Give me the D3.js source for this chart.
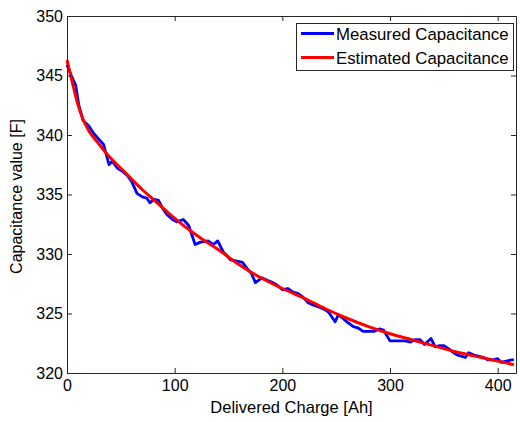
<!DOCTYPE html>
<html>
<head>
<meta charset="utf-8">
<script src="https://cdn.jsdelivr.net/npm/d3@7"></script>
<style>
  html, body { margin: 0; padding: 0; background: #fff; }
  svg { display: block; font-family: "Liberation Sans", Arial, Helvetica, sans-serif; }
</style>
</head>
<body>
<svg id="chart" width="520" height="422"></svg>
<script>
// ---- Data ----
const measuredCharge = [0,4,8,11,15,20,25,30,34,39,42,47,52,56,60,65,70,74,77,81,85,89,93,98,102,108,113,119,124,131,136,140,145,152,158,163,168,171,175,181,186,191,195,200,205,210,214,219,224,229,235,240,243,249,252,256,260,266,270,275,280,285,290,294,300,305,310,314,319,323,328,332,338,342,346,350,355,359,363,367,370,373,378,383,387,391,396,400,403,408,413,415];
const measuredCap = [345.9,345.0,344.2,342.5,341.2,340.8,340.1,339.6,339.2,337.5,337.8,337.2,336.9,336.6,336.1,335.1,334.8,334.7,334.3,334.6,334.5,333.8,333.3,332.9,332.7,332.9,332.4,330.8,331.0,331.1,330.8,331.1,330.2,329.5,329.4,329.3,328.7,328.4,327.6,328.0,327.8,327.6,327.4,327.0,327.1,326.8,326.7,326.4,325.9,325.7,325.5,325.3,325.1,324.3,324.9,324.6,324.3,323.9,323.8,323.5,323.5,323.5,323.7,323.6,322.7,322.7,322.7,322.7,322.6,322.8,322.8,322.4,322.9,322.2,322.3,322.3,322.0,321.7,321.5,321.4,321.3,321.7,321.5,321.4,321.3,321.1,321.1,321.2,320.9,321.0,321.1,321.1];

const estimatedCharge = [0,5,10,15,20,30,40,50,60,70,80,90,100,120,140,160,180,200,220,240,260,280,300,320,340,360,380,400,415];
const estimatedCap = [346.3,344.4,342.6,341.3,340.4,339.2,338.1,337.2,336.3,335.4,334.6,333.8,333.0,331.6,330.4,329.1,328.0,327.1,326.3,325.4,324.6,323.9,323.3,322.8,322.3,321.8,321.4,321.0,320.7];

const xTicks = [0,100,200,300,400];
const yTicks = [320,325,330,335,340,345,350];
const seriesNames = ["Measured Capacitance", "Estimated Capacitance"];
const seriesColors = ["#0000ff", "#ff0000"];
const xLabel = "Delivered Charge [Ah]";
const yLabel = "Capacitance value [F]";

(function () {
// ---- Layout ----
const svg = d3.select("#chart");
const pLeft = 67, pTop = 16, pRight = 516, pBottom = 373;
const x = d3.scaleLinear().domain([0, 417]).range([pLeft, pRight]);
const y = d3.scaleLinear().domain([320, 350]).range([pBottom, pTop]);
const axisColor = "#262626";
const fontSize = 16;

// Lines
const line = d3.line().x(d => x(d[0])).y(d => y(d[1]));
const measured = measuredCharge.map((c, i) => [c, measuredCap[i]]);
const estimated = estimatedCharge.map((c, i) => [c, estimatedCap[i]]);

const plot = svg.append("g");
plot.append("path").datum(measured).attr("d", line)
  .attr("fill", "none").attr("stroke", seriesColors[0]).attr("stroke-width", 2.8)
  .attr("stroke-linejoin", "round");
plot.append("path").datum(estimated).attr("d", d3.line().curve(d3.curveMonotoneX).x(d => x(d[0])).y(d => y(d[1])))
  .attr("fill", "none").attr("stroke", seriesColors[1]).attr("stroke-width", 3)
  .attr("stroke-linejoin", "round");

// Axes
function styleAxis(g) {
  g.selectAll(".domain").attr("stroke", axisColor).attr("stroke-width", 1);
  g.selectAll(".tick line").attr("stroke", axisColor).attr("stroke-width", 1);
  g.selectAll("text").attr("fill", "#000").style("font-size", fontSize + "px")
    .style("font-family", '"Liberation Sans", Arial, Helvetica, sans-serif');
}
svg.append("g").attr("transform", `translate(0,${pBottom})`)
  .call(d3.axisBottom(x).tickValues(xTicks).tickFormat(d3.format("d")).tickSize(-5).tickSizeOuter(0).tickPadding(7))
  .call(styleAxis);
svg.append("g").attr("transform", `translate(0,${pTop})`)
  .call(d3.axisTop(x).tickValues(xTicks).tickFormat("").tickSize(-5).tickSizeOuter(0))
  .call(styleAxis);
svg.append("g").attr("transform", `translate(${pLeft},0)`)
  .call(d3.axisLeft(y).tickValues(yTicks).tickFormat(d3.format("d")).tickSize(-5).tickSizeOuter(0).tickPadding(4))
  .call(styleAxis);
svg.append("g").attr("transform", `translate(${pRight},0)`)
  .call(d3.axisRight(y).tickValues(yTicks).tickFormat("").tickSize(-5).tickSizeOuter(0))
  .call(styleAxis);

// Axis labels
svg.append("text").attr("x", (pLeft + pRight) / 2).attr("y", 413)
  .attr("text-anchor", "middle").style("font-size", "16.5px").text(xLabel);
svg.append("text").attr("transform", `translate(22,${(pTop + pBottom) / 2 + 2}) rotate(-90)`)
  .attr("text-anchor", "middle").style("font-size", "16px").text(yLabel);

// Legend
const lg = svg.append("g");
lg.append("rect").attr("x", 296.5).attr("y", 23.5).attr("width", 217).attr("height", 47)
  .attr("fill", "#fff").attr("stroke", axisColor).attr("stroke-width", 1);
const rowsY = [33.5, 57.5];
seriesNames.forEach((name, i) => {
  lg.append("line").attr("x1", 301).attr("x2", 334).attr("y1", rowsY[i]).attr("y2", rowsY[i])
    .attr("stroke", seriesColors[i]).attr("stroke-width", 3);
  lg.append("text").attr("x", 336).attr("y", rowsY[i] + 6).style("font-size", "16.8px").text(name);
});
})();
</script>
</body>
</html>
